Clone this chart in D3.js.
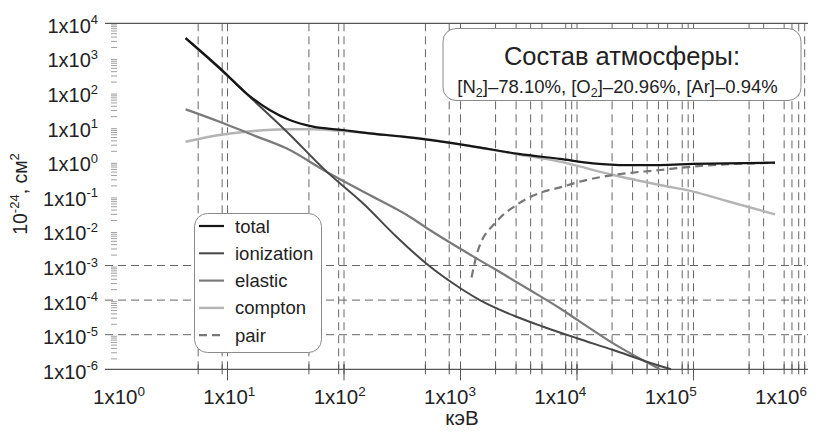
<!DOCTYPE html>
<html><head><meta charset="utf-8">
<script src="https://cdn.jsdelivr.net/npm/d3@7"></script>
<style>
body{margin:0;background:#fff}
svg{display:block}
text{font-family:"Liberation Sans",Arial,Helvetica,sans-serif;fill:#222}
</style>
</head><body>
<svg id="chart" width="838" height="435"></svg>
<script>
// ---------- data (energy in keV, cross-section in 10^-24 cm^2) ----------
const xDecades = [0, 1, 2, 3, 4, 5, 6];
const yDecades = [4, 3, 2, 1, 0, -1, -2, -3, -4, -5, -6];
const gridEnergies = [5.6, 9, 10, 50, 90, 100, 500, 800, 1000, 2000, 3000, 4000, 5000, 8000, 9000, 10000,
  20000, 30000, 40000, 50000, 60000, 80000, 90000, 100000, 300000, 400000, 600000, 700000, 800000, 900000];
const gridSigma = [1e-3, 1e-4, 1e-5];

const totalE = [4.37, 9.44, 14.5, 23, 34.2, 54.2, 98, 166, 319, 1202, 3160, 7130, 13700, 26700, 51500, 99000, 192800, 501000];
const totalV = [3720, 379, 95, 31.2, 16.0, 10.3, 8.24, 6.62, 5.28, 2.88, 1.68, 1.2, 0.9, 0.8, 0.8, 0.86, 0.9, 0.935];

const ionE = [4.37, 9.44, 16.5, 32, 70.6, 145.5, 282, 527, 1052, 1466, 3027, 5129, 10000, 20460, 39800, 64100];
const ionV = [3680, 359, 62, 7.6, 0.525, 0.0628, 0.00679, 0.00103, 1.96e-4, 1.0e-4, 3.3e-5, 1.7e-5, 7.9e-6, 3.6e-6, 1.66e-6, 1.0e-6];

const elasticE = [4.37, 8.55, 16.5, 32, 70.6, 166, 366, 545, 1371, 2037, 3936, 7130, 10590, 20460, 51500];
const elasticV = [32.7, 14.3, 5.9, 2.44, 0.514, 0.109, 0.0257, 0.0106, 1.61e-3, 7.4e-4, 1.96e-4, 5.8e-5, 2.38e-5, 5.6e-6, 1.0e-6];

const comptonE = [4.37, 8.55, 14.5, 32, 54.2, 98, 231, 520, 1202, 3160, 7130, 20460, 51500, 99500, 192800, 501000];
const comptonV = [3.78, 5.9, 7.36, 8.63, 8.63, 7.7, 5.9, 4.44, 2.84, 1.62, 1.0, 0.413, 0.212, 0.136, 0.0731, 0.0302];

const pairE = [1243, 1416, 2040, 3020, 5130, 7590, 10470, 20460, 51500, 99000, 501000];
const pairV = [4.5e-4, 2.8e-3, 0.0186, 0.056, 0.135, 0.19, 0.263, 0.412, 0.575, 0.724, 0.93];

const seriesNames = ["total", "ionization", "elastic", "compton", "pair"];
const xTitle = "кэВ";
const boxTitle = "Состав атмосферы:";

// ---------- layout ----------
const svg = d3.select("#chart");
const x = d3.scaleLog().domain([1, 1e6]).range([111, 810]);
const y = d3.scaleLog().domain([1e-6, 1e4]).range([369.3, 23.3]);
// the x tick labels of the original sit on their own, slightly tighter spacing
const xLabel = d3.scaleLinear().domain([0, 6]).range([119, 781]);
const plotL = 105, plotR = 808, plotT = y(1e4), plotB = y(1e-6);

const styles = {
  total:      {color: "#151515", width: 2.2, dash: null},
  ionization: {color: "#474747", width: 2.0, dash: null},
  elastic:    {color: "#7a7a7a", width: 2.2, dash: null},
  compton:    {color: "#b4b4b4", width: 2.4, dash: null},
  pair:       {color: "#777777", width: 2.2, dash: "8,5"}
};

// vertical dashed grid
svg.append("g").selectAll("line").data(gridEnergies).join("line")
  .attr("x1", d => x(d)).attr("x2", d => x(d))
  .attr("y1", plotT).attr("y2", plotB)
  .attr("stroke", "#666").attr("stroke-width", 1).attr("stroke-dasharray", "8,5");

// horizontal dashed grid
svg.append("g").selectAll("line").data(gridSigma).join("line")
  .attr("x1", plotL).attr("x2", plotR)
  .attr("y1", d => y(d)).attr("y2", d => y(d))
  .attr("stroke", "#666").attr("stroke-width", 1).attr("stroke-dasharray", "8,5");

// top and bottom lines
svg.append("line").attr("x1", plotL).attr("x2", plotR).attr("y1", plotT).attr("y2", plotT)
  .attr("stroke", "#555").attr("stroke-width", 1.2);
svg.append("line").attr("x1", plotL).attr("x2", plotR).attr("y1", plotB).attr("y2", plotB)
  .attr("stroke", "#555").attr("stroke-width", 1.2);

// x ticks
svg.append("g").selectAll("line").data(gridEnergies).join("line")
  .attr("x1", d => x(d)).attr("x2", d => x(d))
  .attr("y1", plotB - 5).attr("y2", plotB + 5)
  .attr("stroke", "#555").attr("stroke-width", 1);
svg.append("g").selectAll("line").data(xDecades.filter(d => d > 0 && d < 6)).join("line")
  .attr("x1", d => x(Math.pow(10, d))).attr("x2", d => x(Math.pow(10, d)))
  .attr("y1", plotB - 5).attr("y2", plotB + 11)
  .attr("stroke", "#555").attr("stroke-width", 1);

// y minor ticks
const minor = [];
yDecades.filter(d => d < 4).forEach(d => { for (let m = 2; m <= 9; m++) minor.push(m * Math.pow(10, d)); });
svg.append("g").selectAll("line").data(minor).join("line")
  .attr("x1", 111).attr("x2", 117)
  .attr("y1", d => y(d)).attr("y2", d => y(d))
  .attr("stroke", "#888").attr("stroke-width", 0.8);

// x tick labels
const xl = svg.append("g");
xDecades.forEach(d => {
  const t = xl.append("text").attr("x", xLabel(d)).attr("y", 404)
    .attr("text-anchor", "middle").attr("font-size", 20.5);
  t.append("tspan").text("1x10");
  t.append("tspan").attr("font-size", 13.5).attr("dy", -8.5).text(String(d));
});

// y tick labels
const yl = svg.append("g");
yDecades.forEach(d => {
  const t = yl.append("text").attr("x", 98).attr("y", y(Math.pow(10, d)) + 9.5)
    .attr("text-anchor", "end").attr("font-size", 20);
  t.append("tspan").text("1x10");
  t.append("tspan").attr("font-size", 13).attr("dy", -8.5).text(String(d));
});

// axis titles
svg.append("text").attr("x", 462).attr("y", 425).attr("text-anchor", "middle")
  .attr("font-size", 20.5).text(xTitle);
const yt = svg.append("text").attr("transform", "translate(27,194) rotate(-90)")
  .attr("text-anchor", "middle").attr("font-size", 19.5);
yt.append("tspan").text("10");
yt.append("tspan").attr("font-size", 13).attr("dy", -8).text("-24");
yt.append("tspan").attr("dy", 8).text(", см");
yt.append("tspan").attr("font-size", 13).attr("dy", -8).text("2");

// curves
const seriesData = {
  compton: comptonE.map((e, i) => [e, comptonV[i]]),
  elastic: elasticE.map((e, i) => [e, elasticV[i]]),
  ionization: ionE.map((e, i) => [e, ionV[i]]),
  pair: pairE.map((e, i) => [e, pairV[i]]),
  total: totalE.map((e, i) => [e, totalV[i]])
};
const line = d3.line().x(d => x(d[0])).y(d => y(d[1])).curve(d3.curveMonotoneX);
["compton", "elastic", "ionization", "pair", "total"].forEach(k => {
  const s = styles[k];
  svg.append("path").datum(seriesData[k]).attr("d", line)
    .attr("fill", "none").attr("stroke", s.color).attr("stroke-width", s.width)
    .attr("stroke-dasharray", s.dash).attr("stroke-linecap", "butt");
});

// legend
const lg = svg.append("g");
lg.append("rect").attr("x", 194.5).attr("y", 213.5).attr("width", 127).attr("height", 139)
  .attr("rx", 13).attr("fill", "#fff").attr("stroke", "#8a8a8a").attr("stroke-width", 1);
seriesNames.forEach((k, i) => {
  const cy = 226 + i * 27.3;
  const s = styles[k];
  lg.append("line").attr("x1", 199).attr("x2", 224).attr("y1", cy).attr("y2", cy)
    .attr("stroke", s.color).attr("stroke-width", s.width).attr("stroke-dasharray", s.dash);
  lg.append("text").attr("x", 235).attr("y", cy + 6.5).attr("font-size", 18.5).text(k);
});

// composition box
const bx = svg.append("g");
bx.append("rect").attr("x", 443).attr("y", 28.5).attr("width", 358).attr("height", 72)
  .attr("rx", 13).attr("fill", "#fff").attr("stroke", "#8a8a8a").attr("stroke-width", 1);
bx.append("text").attr("x", 622).attr("y", 65).attr("text-anchor", "middle")
  .attr("font-size", 25.5).text(boxTitle);
const comp = bx.append("text").attr("x", 617.5).attr("y", 93).attr("text-anchor", "middle")
  .attr("font-size", 18.5);
comp.append("tspan").text("[N");
comp.append("tspan").attr("font-size", 12.5).attr("dy", 4).text("2");
comp.append("tspan").attr("dy", -4).text("]–78.10%, [O");
comp.append("tspan").attr("font-size", 12.5).attr("dy", 4).text("2");
comp.append("tspan").attr("dy", -4).text("]–20.96%, [Ar]–0.94%");
</script>
</body></html>
